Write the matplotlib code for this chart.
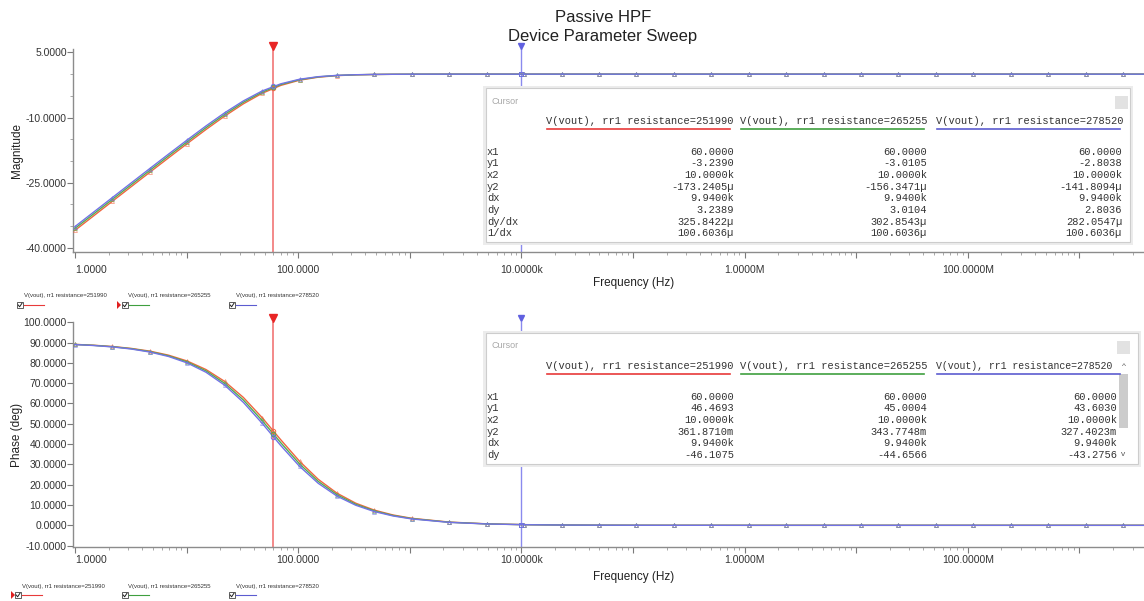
import numpy as np
import matplotlib
matplotlib.use('Agg')
import matplotlib.pyplot as plt
from matplotlib.patches import Rectangle, Polygon
from matplotlib.ticker import LogLocator, NullFormatter, MultipleLocator

plt.rcParams['font.family'] = ['Liberation Sans', 'DejaVu Sans']

# sweep frequencies (Hz)
freq = [1.0, 1.471, 2.165, 3.186, 4.687, 6.897, 10.15, 14.93, 21.96, 32.32,
        47.53, 69.96, 102.9, 151.4, 222.7, 327.8, 482.2, 709.6, 1044,
        2259, 4891, 10590, 22920, 49620, 1.074e5, 2.325e5, 5.034e5, 1.089e6,
        2.358e6, 5.105e6, 1.105e7, 2.392e7, 5.178e7, 1.121e8, 2.427e8,
        5.253e8, 1.137e9, 2.461e9, 1.0e10]

# magnitude (dB) for the three resistance values
mag_251990 = [-36.01, -32.66, -29.30, -25.95, -22.61, -19.29, -15.99, -12.76, -9.67, -6.83,
              -4.42, -2.59, -1.39, -0.70, -0.34, -0.16, -0.07, -0.03, -0.02,
              0, 0, 0, 0, 0, 0, 0, 0, 0, 0, 0, 0, 0, 0, 0, 0, 0, 0, 0, 0]
mag_265255 = [-35.56, -32.21, -28.86, -25.51, -22.17, -18.85, -15.56, -12.34, -9.28, -6.48,
              -4.14, -2.39, -1.27, -0.63, -0.30, -0.14, -0.07, -0.03, -0.01,
              0, 0, 0, 0, 0, 0, 0, 0, 0, 0, 0, 0, 0, 0, 0, 0, 0, 0, 0, 0]
mag_278520 = [-35.14, -31.79, -28.44, -25.09, -21.75, -18.43, -15.15, -11.94, -8.90, -6.16,
              -3.88, -2.22, -1.17, -0.58, -0.28, -0.13, -0.06, -0.03, -0.01,
              0, 0, 0, 0, 0, 0, 0, 0, 0, 0, 0, 0, 0, 0, 0, 0, 0, 0, 0, 0]

# phase (deg)
ph_251990 = [89.09, 88.67, 88.04, 87.11, 85.76, 83.77, 80.87, 76.70, 70.83, 62.94,
             53.03, 42.07, 31.54, 22.64, 15.83, 10.90, 7.46, 5.09, 3.46,
             1.60, 0.74, 0.34, 0.16, 0.07, 0.03, 0.02, 0.01, 0, 0, 0, 0, 0, 0, 0, 0, 0, 0, 0, 0]
ph_265255 = [89.05, 88.60, 87.93, 86.96, 85.53, 83.44, 80.40, 76.03, 69.89, 61.69,
             51.61, 40.62, 30.25, 21.62, 15.08, 10.37, 7.09, 4.83, 3.29,
             1.52, 0.70, 0.32, 0.15, 0.07, 0.03, 0.01, 0.01, 0, 0, 0, 0, 0, 0, 0, 0, 0, 0, 0, 0]
ph_278520 = [89.00, 88.52, 87.83, 86.81, 85.31, 83.12, 79.93, 75.36, 68.98, 60.51,
             50.25, 39.24, 29.04, 20.68, 14.39, 9.89, 6.76, 4.60, 3.13,
             1.45, 0.67, 0.31, 0.14, 0.07, 0.03, 0.01, 0.01, 0, 0, 0, 0, 0, 0, 0, 0, 0, 0, 0, 0]

labels = ['V(vout), rr1 resistance=251990', 'V(vout), rr1 resistance=265255',
          'V(vout), rr1 resistance=278520']
colors = ['#f0653f', '#52ad52', '#7272e6']
ul_colors = ['#e83a3a', '#3f9f3f', '#5c5cd0']

# cursor readouts
rows_mag = ['x1', 'y1', 'x2', 'y2', 'dx', 'dy', 'dy/dx', '1/dx']
cur_mag = [[60.0, -3.2390, 10.0e3, -173.2405e-6, 9.94e3, 3.2389, 325.8422e-6, 100.6036e-6],
           [60.0, -3.0105, 10.0e3, -156.3471e-6, 9.94e3, 3.0104, 302.8543e-6, 100.6036e-6],
           [60.0, -2.8038, 10.0e3, -141.8094e-6, 9.94e3, 2.8036, 282.0547e-6, 100.6036e-6]]
rows_ph = ['x1', 'y1', 'x2', 'y2', 'dx', 'dy']
cur_ph = [[60.0, 46.4693, 10.0e3, 361.8710e-3, 9.94e3, -46.1075],
          [60.0, 45.0004, 10.0e3, 343.7748e-3, 9.94e3, -44.6566],
          [60.0, 43.6030, 10.0e3, 327.4023e-3, 9.94e3, -43.2756]]

mag_ticks = [5, -10, -25, -40]
ph_ticks = [100, 90, 80, 70, 60, 50, 40, 30, 20, 10, 0, -10]


def eng(v):
    a = abs(v)
    if a >= 1e6:
        return '%.4fM' % (v / 1e6)
    if a >= 1e3:
        return '%.4fk' % (v / 1e3)
    if a >= 1 or a == 0:
        return '%.4f' % v
    if a >= 1e-3:
        return '%.4fm' % (v * 1e3)
    return '%.4f\u00b5' % (v * 1e6)


W, H = 1144, 601
fig = plt.figure(figsize=(W / 100, H / 100), dpi=100)


def px_rect(l, t, r, b):
    return [l / W, 1 - b / H, (r - l) / W, (b - t) / H]


ax1 = fig.add_axes(px_rect(73, 49, 1144, 252))
ax2 = fig.add_axes(px_rect(73, 321.8, 1144, 547))

markers_at = list(range(0, 19, 2)) + list(range(19, 38))
mags = [mag_251990, mag_265255, mag_278520]
phs = [ph_251990, ph_265255, ph_278520]

decades = [10.0 ** k for k in range(0, 10)]
dec_labels = [eng(d) if k % 2 == 0 else '' for k, d in enumerate(decades)]

for ax, data, cur, ticks, ylim in [(ax1, mags, cur_mag, mag_ticks, (-41.0, 5.8)),
                                   (ax2, phs, cur_ph, ph_ticks, (-10.67, 100.2))]:
    for vals, c in zip(data, colors):
        ax.plot(freq, vals, color=c, lw=1.0, zorder=3)
        ax.plot(freq, vals, ls='none', marker='^', ms=2.8, mfc='none', mec=c,
                mew=0.5, alpha=0.75, markevery=markers_at, zorder=3)
    for col, c in zip(cur, colors):
        ax.plot([col[0]], [col[1]], marker='o', ms=3.2, mfc='none', mec=c, mew=0.7, zorder=4)
        ax.plot([col[2]], [col[3]], marker='s', ms=3.2, mfc='none', mec=c, mew=0.7, zorder=4)
    ax.set_xscale('log')
    ax.set_xlim(0.96, 3.8e9)
    ax.set_ylim(*ylim)
    ax.set_xticks(decades)
    tl = ax.set_xticklabels(dec_labels)
    tl[0].set_ha('left')
    tl[0].set_x(0.9)
    ax.xaxis.set_minor_locator(LogLocator(base=10, subs=np.arange(2, 10), numticks=50))
    ax.xaxis.set_minor_formatter(NullFormatter())
    ax.set_yticks(ticks)
    ax.set_yticklabels(['%.4f' % t for t in ticks])
    for s in ('top', 'right'):
        ax.spines[s].set_visible(False)
    for s in ('left', 'bottom'):
        ax.spines[s].set_color('#8c8c8c')
        ax.spines[s].set_linewidth(1.0)
    ax.tick_params(axis='both', which='major', length=4, width=0.8, color='#7a7a7a',
                   labelsize=7.5, labelcolor='#333333')
    ax.tick_params(axis='both', which='minor', length=2, width=0.6, color='#9a9a9a')
    ax.tick_params(axis='y', pad=0.5)
    # cursors
    ax.axvline(cur[0][0], color='#f28080', lw=1.3, zorder=2)
    ax.axvline(cur[0][2], color='#8a8aee', lw=1.0, zorder=2)
    ax.plot([cur[0][0]], [1.015], transform=ax.get_xaxis_transform(), marker='v',
            ms=6, color='#e82525', clip_on=False, zorder=5)
    ax.plot([cur[0][2]], [1.015], transform=ax.get_xaxis_transform(), marker='v',
            ms=5, color='#6060e0', clip_on=False, zorder=5)

ax1.yaxis.set_minor_locator(MultipleLocator(5))
ax1.tick_params(axis='x', pad=5)
ax2.tick_params(axis='x', pad=1.5)

# overlay in pixel coordinates for titles, cursor boxes and legends
ov = fig.add_axes([0, 0, 1, 1], zorder=10)
ov.set_xlim(0, W)
ov.set_ylim(H, 0)
ov.axis('off')

ov.text(603, 17, 'Passive HPF', ha='center', va='center', fontsize=12, color='#222222')
ov.text(603, 37, 'Device Parameter Sweep', ha='center', va='center', fontsize=12, color='#222222')
ov.text(634, 283, 'Frequency (Hz)', ha='center', va='center', fontsize=8.5, color='#222222')
ov.text(634, 577, 'Frequency (Hz)', ha='center', va='center', fontsize=8.5, color='#222222')
ov.text(17, 150, 'Magnitude', ha='center', va='center', rotation=90, fontsize=8.5, color='#222222')
ov.text(17, 435, 'Phase (deg)', ha='center', va='center', rotation=90, fontsize=8.5, color='#222222')

mono = 'Liberation Mono'


def cursor_box(l, t, r, b, col_left, col_right, head_sizes, header_y, row_y0, rows, cols, scroll):
    ov.add_patch(Rectangle((l - 3, t - 2), r - l + 6, b - t + 5, fc='#ececec', ec='none'))
    ov.add_patch(Rectangle((l, t), r - l, b - t, fc='white', ec='#cdcdcd', lw=0.8))
    ov.text(l + 5, t + 13, 'Cursor', fontsize=6.5, color='#a8a8a8', va='center')
    sq_x = r - 15 if not scroll else r - 21
    ov.add_patch(Rectangle((sq_x, t + 8), 13, 13, fc='#e2e2e2', ec='none'))
    for k, (xl, lab, fs) in enumerate(zip(col_left, labels, head_sizes)):
        ov.text(xl, header_y, lab, family=mono, fontsize=fs, color='#333333',
                ha='left', va='center')
        ov.plot([xl + 1, xl + 184], [header_y + 7.5, header_y + 7.5], color=ul_colors[k], lw=1.2)
    for i, name in enumerate(rows):
        y = row_y0 + 11.66 * i
        ov.text(l + 1, y, name, family=mono, fontsize=7.5, color='#333333', va='center')
        for xr, col in zip(col_right, cols):
            ov.text(xr, y, eng(col[i]), family=mono, fontsize=7.5, color='#333333',
                    ha='right', va='center')
    if scroll:
        ov.add_patch(Rectangle((r - 19, header_y + 8), 9, 54, fc='#cccccc', ec='none'))
        ov.text(r - 14.5, header_y + 1, '^', fontsize=6, color='#555555', ha='center', va='center')
        ov.text(r - 14.5, row_y0 + 11.66 * (len(rows) - 1), 'v', fontsize=6, color='#555555',
                ha='center', va='center')


cursor_box(486, 88, 1130, 242, [546, 740, 936], [734, 927, 1122], [7.5, 7.5, 7.5],
           121, 151.7, rows_mag, cur_mag, False)
cursor_box(486, 333, 1138, 464, [546, 740, 936], [734, 927, 1117], [7.5, 7.5, 7.1],
           366, 396.7, rows_ph, cur_ph, True)


def legend_row(text_y, box_y, xs, arrow_x):
    for k, (x, lab) in enumerate(zip(xs, labels)):
        ov.add_patch(Rectangle((x, box_y), 6, 6, fc='white', ec='#444444', lw=0.6))
        ov.plot([x + 1.2, x + 2.6, x + 5.0], [box_y + 3.0, box_y + 4.8, box_y + 1.2],
                color='#222222', lw=0.7)
        ov.text(x + 6.5, text_y, lab, fontsize=4.3, color='#333333', va='center')
        ov.plot([x + 6.5, x + 27], [box_y + 3, box_y + 3], color=ul_colors[k], lw=0.8)
    ov.add_patch(Polygon([[arrow_x, box_y - 1], [arrow_x + 4, box_y + 3], [arrow_x, box_y + 7]],
                         fc='#e02020', ec='none'))


legend_row(296, 302, [17, 122, 229], 117)
legend_row(586.5, 592, [15, 122, 229], 11)

plt.savefig('out.png', dpi=100)
